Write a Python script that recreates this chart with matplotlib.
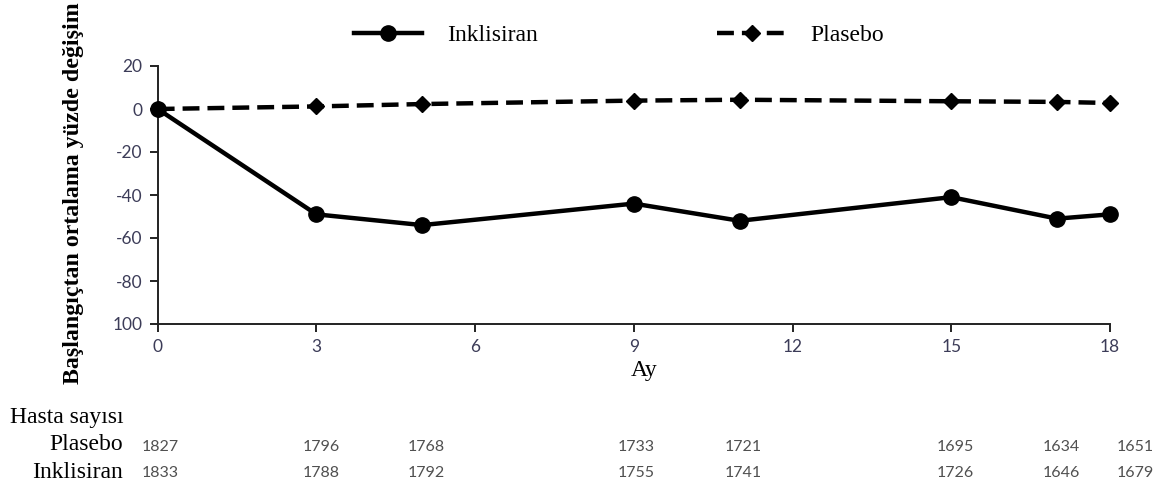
import numpy as np
import matplotlib.pyplot as plt

# data
months = [0, 3, 5, 9, 11, 15, 17, 18]
inklisiran = [0, -49, -54, -44, -52, -41, -51, -49]
plasebo = [0, 1.2, 2.3, 3.9, 4.3, 3.6, 3.3, 2.8]
x_ticks = [0, 3, 6, 9, 12, 15, 18]
y_ticks = [20, 0, -20, -40, -60, -80, -100]
y_tick_labels = ['20', '0', '-20', '-40', '-60', '-80', '100']
n_plasebo = [1827, 1796, 1768, 1733, 1721, 1695, 1634, 1651]
n_inklisiran = [1833, 1788, 1792, 1755, 1741, 1726, 1646, 1679]

# column centres of the patient-count table (figure pixels)
count_cols = [160, 321, 426, 636, 743, 955, 1061, 1135]

W, H = 1161, 488
fig = plt.figure(figsize=(W / 100, H / 100), dpi=100)
ax = fig.add_axes([157.7 / W, 1 - 324 / H, (1110 - 157.7) / W, (324 - 66) / H])

serif = 'Liberation Serif'
sans = 'Lato'
tick_col = '#3c3c58'

ax.plot(months, inklisiran, color='black', lw=3.2, marker='o', ms=11,
        clip_on=False, zorder=3, label='Inklisiran')
ax.plot(months, plasebo, color='black', lw=3.2, ls=(0, (3.8, 1.8)), marker='D',
        ms=8, clip_on=False, zorder=3, label='Plasebo')

ax.set_xlim(0, 18)
ax.set_ylim(-100, 20)
ax.set_xticks(x_ticks)
ax.set_yticks(y_ticks)
ax.set_yticklabels(y_tick_labels)
for s in ['top', 'right']:
    ax.spines[s].set_visible(False)
for s in ['left', 'bottom']:
    ax.spines[s].set_linewidth(1.4)
    ax.spines[s].set_color('#222222')
ax.tick_params(direction='out', length=6, width=1.4, color='#222222',
               labelsize=12.5, labelcolor=tick_col, pad=5)
for lbl in ax.get_xticklabels() + ax.get_yticklabels():
    lbl.set_family(sans)

ax.set_xlabel('Ay', family=serif, fontsize=17)
ax.xaxis.set_label_coords((644 - 157.7) / (1110 - 157.7), (324 - 360) / 258)
fig.text(73 / W, 1 - 193 / H, 'Başlangıçtan ortalama yüzde değişim',
         family=serif, fontweight='bold', fontsize=17.2, rotation=90,
         ha='center', va='center')

ax.legend(loc='center left', bbox_to_anchor=(354 / W, 1 - 35 / H),
          bbox_transform=fig.transFigure, ncol=2, frameon=False, borderpad=0,
          borderaxespad=0, handlelength=2.9, handletextpad=1.05,
          columnspacing=7.6, prop={'family': serif, 'size': 17})

# patient-count table
fig.text(123 / W, 1 - 417 / H, 'Hasta sayısı', family=serif, fontsize=17,
         ha='right', va='center')
fig.text(123 / W, 1 - 445 / H, 'Plasebo', family=serif, fontsize=17,
         ha='right', va='center')
fig.text(123 / W, 1 - 472 / H, 'Inklisiran', family=serif, fontsize=17,
         ha='right', va='center')
for cx, p, i in zip(count_cols, n_plasebo, n_inklisiran):
    fig.text(cx / W, 1 - 447 / H, str(p), family=sans, fontsize=11.5,
             color='#505050', ha='center', va='center')
    fig.text(cx / W, 1 - 473 / H, str(i), family=sans, fontsize=11.5,
             color='#505050', ha='center', va='center')

fig.savefig('out.png', dpi=100)
